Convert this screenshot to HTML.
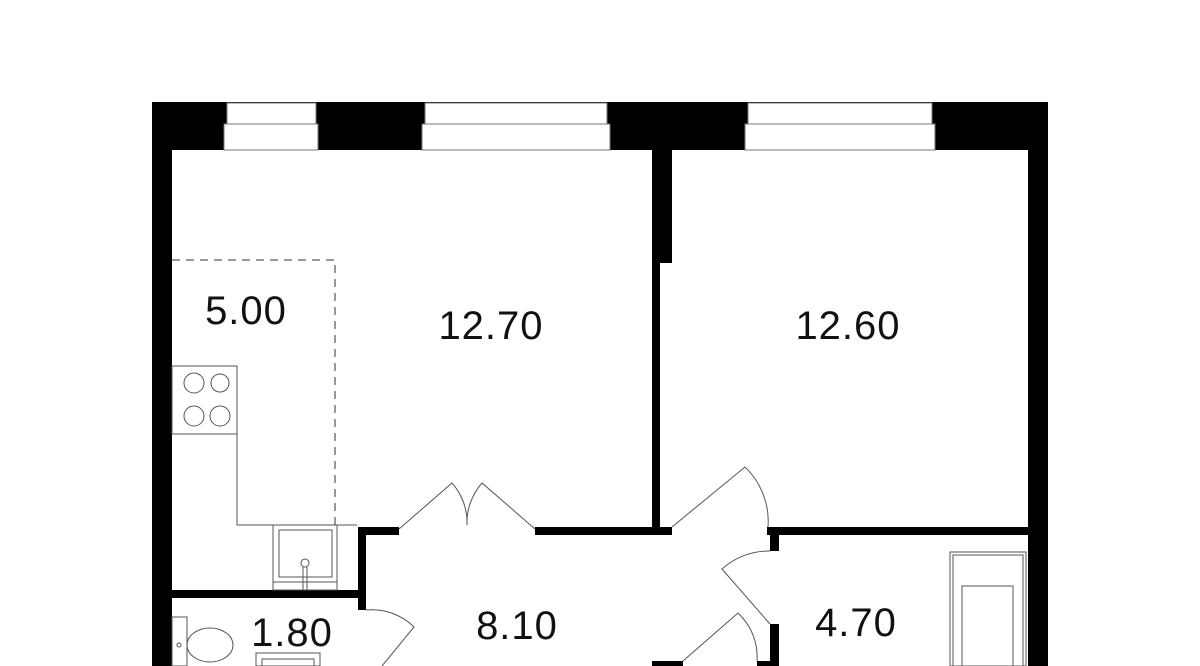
<!DOCTYPE html>
<html><head><meta charset="utf-8"><style>
html,body{margin:0;padding:0;background:#fff;width:1200px;height:666px;overflow:hidden}
svg{display:block}
text{font-family:"Liberation Sans",sans-serif;font-size:40px;fill:#111;text-anchor:middle;letter-spacing:1px}
</style></head><body>
<svg width="1200" height="666" viewBox="0 0 1200 666">
<g fill="#000">
<rect x="152" y="102" width="896" height="48"/>
<rect x="152" y="102" width="20" height="564"/>
<rect x="1028" y="102" width="20" height="564"/>
<rect x="652" y="150" width="20" height="113"/>
<rect x="652" y="150" width="8" height="385"/>
<rect x="358" y="527" width="41" height="8"/>
<rect x="535" y="527" width="137" height="8"/>
<rect x="767" y="527" width="261" height="8"/>
<rect x="358" y="527" width="8" height="83"/>
<rect x="172" y="590" width="194" height="8"/>
<rect x="770" y="535" width="9" height="16"/>
<rect x="770" y="624" width="9" height="42"/>
<rect x="652" y="661" width="31" height="5"/>
<rect x="757" y="661" width="22" height="5"/>
</g>
<g fill="#fff" stroke="#777" stroke-width="1">
<rect x="227" y="103" width="89" height="21"/>
<rect x="224" y="124" width="94" height="26"/>
<rect x="425" y="103" width="182" height="21"/>
<rect x="422" y="124" width="188" height="26"/>
<rect x="748" y="103" width="184" height="21"/>
<rect x="745" y="124" width="190" height="26"/>
</g>
<path d="M172 260 H335 V525" fill="none" stroke="#777" stroke-width="1.5" stroke-dasharray="8 6"/>
<g fill="none" stroke="#555" stroke-width="1">
<rect x="172" y="366" width="65" height="68"/>
<circle cx="194" cy="383" r="10"/><circle cx="220" cy="383" r="9"/>
<circle cx="194" cy="416" r="10"/><circle cx="220" cy="416" r="10"/>
<path d="M237 434 V525 H357"/>
<rect x="273" y="525" width="64" height="65"/>
<rect x="279" y="530" width="53" height="47"/>
<path d="M273 582 H337"/>
<circle cx="305" cy="563" r="4"/>
<path d="M303 567 V590 M307 567 V590"/>
<rect x="172" y="617" width="15" height="49"/>
<ellipse cx="210" cy="645" rx="23" ry="17"/>
<circle cx="179" cy="645" r="2"/>
<rect x="256" y="653" width="64" height="13"/>
<rect x="262" y="659" width="52" height="7"/>
<rect x="950" y="552" width="76" height="114"/>
<rect x="953" y="555" width="70" height="111"/>
<rect x="962" y="586" width="51" height="80"/>
<path d="M399 529 L452 483 A60 60 0 0 1 467 525"/>
<path d="M535 529 L482 483 A60 60 0 0 0 467 525"/>
<path d="M672 527 L745 467 A75 75 0 0 1 768 527"/>
<path d="M770 624 L722 569 A70 70 0 0 1 770 551"/>
<path d="M683 661 L738 613 A60 60 0 0 1 757 661"/>
<path d="M366 610 A60 60 0 0 1 414 627 L382 666"/>
</g>
<text x="246" y="324">5.00</text>
<text x="491" y="339">12.70</text>
<text x="848" y="339">12.60</text>
<text x="517" y="639">8.10</text>
<text x="292" y="646">1.80</text>
<text x="856" y="636">4.70</text>
</svg>
</body></html>
